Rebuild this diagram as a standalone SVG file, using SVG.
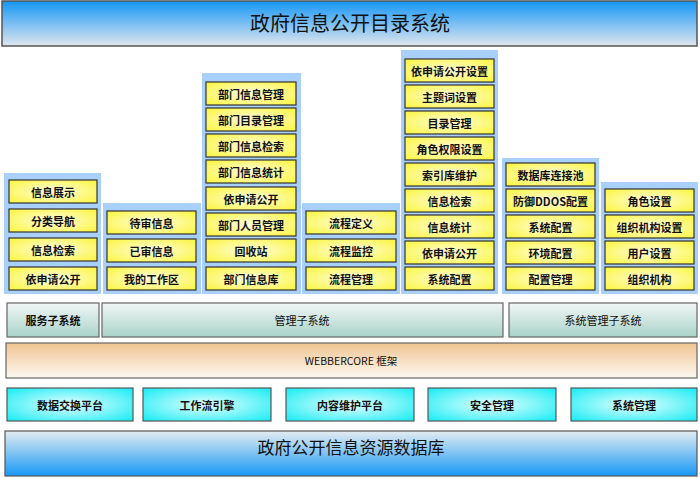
<svg xmlns="http://www.w3.org/2000/svg" width="700" height="478" viewBox="0 0 700 478">
<defs>
<linearGradient id="gT" x1="0" y1="0" x2="0" y2="1"><stop offset="0" stop-color="#1596f6"/><stop offset="1" stop-color="#dfe6ee"/></linearGradient>
<linearGradient id="gB" x1="0" y1="0" x2="0" y2="1"><stop offset="0" stop-color="#e4ecf2"/><stop offset="1" stop-color="#1798f6"/></linearGradient>
<radialGradient id="gY" cx="0.5" cy="0.5" r="0.7"><stop offset="0" stop-color="#fffde0"/><stop offset="1" stop-color="#fbf53a"/></radialGradient>
<radialGradient id="gC" cx="0.5" cy="0.5" r="0.7"><stop offset="0" stop-color="#e8ffff"/><stop offset="1" stop-color="#14ecf4"/></radialGradient>
<linearGradient id="gG" x1="0" y1="0" x2="0" y2="1"><stop offset="0" stop-color="#f2f7f6"/><stop offset="1" stop-color="#a9d2c8"/></linearGradient>
<linearGradient id="gO" x1="0" y1="0" x2="0" y2="1"><stop offset="0" stop-color="#efc592"/><stop offset="1" stop-color="#fdf8f0"/></linearGradient>
</defs>
<style>
.col{fill:#a8d0fa}
.y{fill:url(#gY);stroke:#333;stroke-width:1.2}
.c{fill:url(#gC);stroke:#555;stroke-width:1.2}
.s{fill:url(#gG);stroke:#666;stroke-width:1.2}
text{font-family:"Noto Sans CJK SC","Liberation Sans",sans-serif;text-anchor:middle;dominant-baseline:central;fill:#111}
.t{font-size:11px;font-weight:bold}
.u{font-size:11px}
</style>
<g id="title"><rect x="2" y="1" width="695" height="45" fill="url(#gT)" stroke="#555" stroke-width="1.5"/><text x="350" y="22" style="font-size:20px">政府信息公开目录系统</text></g>
<g id="col1"><rect class="col" x="4" y="173" width="97" height="121"/>
<rect class="y" x="9" y="180" width="88" height="23"/><text class="t" x="53" y="191.5">信息展示</text>
<rect class="y" x="9" y="209" width="88" height="23"/><text class="t" x="53" y="220.5">分类导航</text>
<rect class="y" x="9" y="238" width="88" height="23"/><text class="t" x="53" y="249.5">信息检索</text>
<rect class="y" x="9" y="267" width="88" height="23"/><text class="t" x="53" y="278.5">依申请公开</text></g>
<g id="col2"><rect class="col" x="103" y="203" width="98" height="91"/>
<rect class="y" x="107" y="211" width="89" height="23"/><text class="t" x="151.5" y="222.5">待审信息</text>
<rect class="y" x="107" y="239" width="89" height="23"/><text class="t" x="151.5" y="250.5">已审信息</text>
<rect class="y" x="107" y="267" width="89" height="23"/><text class="t" x="151.5" y="278.5">我的工作区</text></g>
<g id="col3"><rect class="col" x="202" y="73" width="99" height="221"/>
<rect class="y" x="206" y="82" width="90" height="23"/><text class="t" x="251" y="93.5">部门信息管理</text>
<rect class="y" x="206" y="108" width="90" height="23"/><text class="t" x="251" y="119.5">部门目录管理</text>
<rect class="y" x="206" y="134" width="90" height="23"/><text class="t" x="251" y="145.5">部门信息检索</text>
<rect class="y" x="206" y="160" width="90" height="23"/><text class="t" x="251" y="171.5">部门信息统计</text>
<rect class="y" x="206" y="187" width="90" height="23"/><text class="t" x="251" y="198.5">依申请公开</text>
<rect class="y" x="206" y="213" width="90" height="23"/><text class="t" x="251" y="224.5">部门人员管理</text>
<rect class="y" x="206" y="239" width="90" height="23"/><text class="t" x="251" y="250.5">回收站</text>
<rect class="y" x="206" y="267" width="90" height="23"/><text class="t" x="251" y="278.5">部门信息库</text></g>
<g id="col4"><rect class="col" x="302" y="203" width="98" height="91"/>
<rect class="y" x="306" y="211" width="90" height="23"/><text class="t" x="351" y="222.5">流程定义</text>
<rect class="y" x="306" y="239" width="90" height="23"/><text class="t" x="351" y="250.5">流程监控</text>
<rect class="y" x="306" y="267" width="90" height="23"/><text class="t" x="351" y="278.5">流程管理</text></g>
<g id="col5"><rect class="col" x="401" y="50" width="97" height="244"/>
<rect class="y" x="405" y="59" width="89" height="23"/><text class="t" x="449.5" y="70.5">依申请公开设置</text>
<rect class="y" x="405" y="85" width="89" height="23"/><text class="t" x="449.5" y="96.5">主题词设置</text>
<rect class="y" x="405" y="111" width="89" height="23"/><text class="t" x="449.5" y="122.5">目录管理</text>
<rect class="y" x="405" y="137" width="89" height="23"/><text class="t" x="449.5" y="148.5">角色权限设置</text>
<rect class="y" x="405" y="163" width="89" height="23"/><text class="t" x="449.5" y="174.5">索引库维护</text>
<rect class="y" x="405" y="189" width="89" height="23"/><text class="t" x="449.5" y="200.5">信息检索</text>
<rect class="y" x="405" y="215" width="89" height="23"/><text class="t" x="449.5" y="226.5">信息统计</text>
<rect class="y" x="405" y="241" width="89" height="23"/><text class="t" x="449.5" y="252.5">依申请公开</text>
<rect class="y" x="405" y="267" width="89" height="23"/><text class="t" x="449.5" y="278.5">系统配置</text></g>
<g id="col6"><rect class="col" x="502" y="158" width="97" height="136"/>
<rect class="y" x="506" y="163" width="89" height="23"/><text class="t" x="550.5" y="174.5">数据库连接池</text>
<rect class="y" x="506" y="189" width="89" height="23"/><text class="t" x="550.5" y="200.5">防御DDOS配置</text>
<rect class="y" x="506" y="215" width="89" height="23"/><text class="t" x="550.5" y="226.5">系统配置</text>
<rect class="y" x="506" y="241" width="89" height="23"/><text class="t" x="550.5" y="252.5">环境配置</text>
<rect class="y" x="506" y="267" width="89" height="23"/><text class="t" x="550.5" y="278.5">配置管理</text></g>
<g id="col7"><rect class="col" x="601" y="182" width="97" height="112"/>
<rect class="y" x="605" y="189" width="89" height="23"/><text class="t" x="649.5" y="200.5">角色设置</text>
<rect class="y" x="605" y="215" width="89" height="23"/><text class="t" x="649.5" y="226.5">组织机构设置</text>
<rect class="y" x="605" y="241" width="89" height="23"/><text class="t" x="649.5" y="252.5">用户设置</text>
<rect class="y" x="605" y="267" width="89" height="23"/><text class="t" x="649.5" y="278.5">组织机构</text></g>
<g id="subsystems">
<rect class="s" x="7" y="303" width="92" height="34"/><text class="t" x="53" y="320">服务子系统</text>
<rect class="s" x="102" y="303" width="401" height="34"/><text class="u" x="302" y="320">管理子系统</text>
<rect class="s" x="509" y="303" width="188" height="34"/><text class="u" x="603" y="320">系统管理子系统</text></g>
<g id="framework"><rect x="6" y="343" width="691" height="35" fill="url(#gO)" stroke="#666" stroke-width="1.2"/><text class="u" x="351" y="360" style="font-size:10.5px">WEBBERCORE 框架</text></g>
<g id="platform">
<rect class="c" x="7" y="388" width="126" height="33"/><text class="t" x="70" y="404.5">数据交换平台</text>
<rect class="c" x="143" y="388" width="128" height="33"/><text class="t" x="207" y="404.5">工作流引擎</text>
<rect class="c" x="286" y="388" width="128" height="33"/><text class="t" x="350" y="404.5">内容维护平台</text>
<rect class="c" x="428" y="388" width="128" height="33"/><text class="t" x="492" y="404.5">安全管理</text>
<rect class="c" x="571" y="388" width="126" height="33"/><text class="t" x="634" y="404.5">系统管理</text></g>
<g id="database"><rect x="5" y="431" width="692" height="45" fill="url(#gB)" stroke="#555" stroke-width="1.2"/><text x="351" y="446" style="font-size:17px">政府公开信息资源数据库</text></g>
<g id="connectors"/>
</svg>
